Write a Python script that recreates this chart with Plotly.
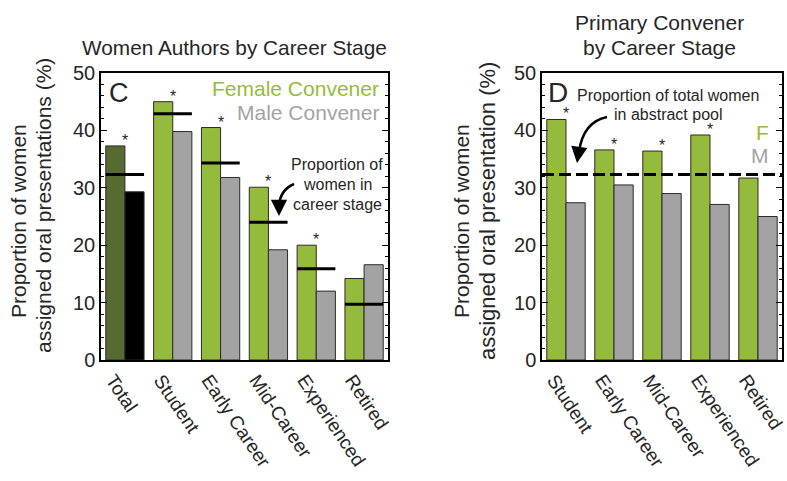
import plotly.graph_objects as go

# ---- data -------------------------------------------------------------
stages_c = ["Total", "Student", "Early Career", "Mid-Career", "Experienced", "Retired"]
female_conv_c = [37.3, 45.0, 40.5, 30.1, 20.0, 14.2]
male_conv_c = [29.3, 39.8, 31.8, 19.2, 12.0, 16.6]
stage_share_c = [32.3, 42.9, 34.3, 24.0, 15.9, 9.7]
signif_c = [True, True, True, True, True, False]

stages_d = ["Student", "Early Career", "Mid-Career", "Experienced", "Retired"]
female_conv_d = [41.9, 36.6, 36.4, 39.2, 31.7]
male_conv_d = [27.4, 30.5, 29.0, 27.1, 25.0]
abstract_pool_share = 32.3
signif_d = [True, True, True, True, False]

y_ticks = [0, 10, 20, 30, 40, 50]

# ---- style ------------------------------------------------------------
W, H = 787, 481
FONT = "Liberation Sans, Arial, Helvetica, sans-serif"
TXT = "#262626"
GREEN = "#95bb3c"
DARK_GREEN = "#566b31"
GREY = "#a3a3a3"
BLACK = "#000000"
EDGE = "#2b2b2b"


def px_x(p):
    return p / W


def px_y(p):
    return 1 - p / H


fig = go.Figure()

# ---- panel C ----------------------------------------------------------
xc = list(range(len(stages_c)))
fig.add_trace(go.Bar(
    x=xc, y=female_conv_c, xaxis="x", yaxis="y",
    marker=dict(color=[DARK_GREEN] + [GREEN] * (len(xc) - 1),
                line=dict(color=EDGE, width=1)),
    showlegend=False, hoverinfo="y"))
fig.add_trace(go.Bar(
    x=xc, y=male_conv_c, xaxis="x", yaxis="y",
    marker=dict(color=[BLACK] + [GREY] * (len(xc) - 1),
                line=dict(color=EDGE, width=1)),
    showlegend=False, hoverinfo="y"))

# proportion of women in each career stage: a bar across each group
lx, ly = [], []
for i, v in zip(xc, stage_share_c):
    lx += [i - 0.4, i + 0.4, None]
    ly += [v, v, None]
fig.add_trace(go.Scatter(
    x=lx, y=ly, mode="lines", xaxis="x", yaxis="y",
    line=dict(color=BLACK, width=3), showlegend=False, hoverinfo="skip"))

# ---- panel D ----------------------------------------------------------
xd = list(range(len(stages_d)))
fig.add_trace(go.Bar(
    x=xd, y=female_conv_d, xaxis="x2", yaxis="y2",
    marker=dict(color=GREEN, line=dict(color=EDGE, width=1)),
    showlegend=False, hoverinfo="y"))
fig.add_trace(go.Bar(
    x=xd, y=male_conv_d, xaxis="x2", yaxis="y2",
    marker=dict(color=GREY, line=dict(color=EDGE, width=1)),
    showlegend=False, hoverinfo="y"))

fig.add_shape(type="line", xref="x2 domain", yref="y2",
              x0=0, x1=1, y0=abstract_pool_share, y1=abstract_pool_share,
              line=dict(color=BLACK, width=3, dash="12px,5px"))

# ---- axes -------------------------------------------------------------
yax = dict(
    range=[0, 50], tickvals=y_ticks, ticks="inside", ticklen=6, tickwidth=1,
    tickcolor=BLACK, minor=dict(dtick=2, ticks="inside", ticklen=3, tickcolor=BLACK),
    showline=True, linecolor=BLACK, linewidth=1.5, mirror="allticks",
    showgrid=False, zeroline=False, automargin=False,
    tickfont=dict(family=FONT, size=20, color=TXT),
    domain=[px_y(360), px_y(73)],
)
xax = dict(
    showline=True, linecolor=BLACK, linewidth=1.5, mirror=True,
    showgrid=False, zeroline=False, ticks="", automargin=False,
    tickangle=56, ticklabelshift=-12,
    tickfont=dict(family=FONT, size=19, color=TXT),
)

fig.update_layout(
    width=W, height=H,
    margin=dict(l=0, r=0, t=0, b=0),
    paper_bgcolor="white", plot_bgcolor="white",
    barmode="group", bargap=0.2, bargroupgap=0,
    font=dict(family=FONT, color=TXT),
    xaxis=dict(xax, range=[-0.5, len(xc) - 0.5], tickvals=xc, ticktext=stages_c,
               domain=[px_x(101), px_x(388)], anchor="y"),
    yaxis=dict(yax, anchor="x"),
    xaxis2=dict(xax, range=[-0.5, len(xd) - 0.5], tickvals=xd, ticktext=stages_d,
                domain=[px_x(542), px_x(782)], anchor="y2"),
    yaxis2=dict(yax, anchor="x2"),
)

# ---- text -------------------------------------------------------------
ann = []


def text(x, y, s, size, color=TXT, xanchor="center", yanchor="middle", **kw):
    ann.append(dict(x=px_x(x), y=px_y(y), xref="paper", yref="paper", text=s,
                    showarrow=False, xanchor=xanchor, yanchor=yanchor,
                    font=dict(family=FONT, size=size, color=color), **kw))


text(235, 47, "Women Authors by Career Stage", 20.8)
text(659, 22, "Primary Convener", 21)
text(659, 47, "by Career Stage", 21)

# y-axis titles, one annotation per line
text(19, 221, "Proportion of women", 21, textangle=-90)
text(43, 206, "assigned oral presentations (%)", 21, textangle=-90)
text(462, 221, "Proportion of women", 21, textangle=-90)
text(487, 211, "assigned oral presentation (%)", 22, textangle=-90)

text(119, 93, "C", 27)
text(558, 93, "D", 28)
text(381, 88, "Female Convener", 21, color=GREEN, xanchor="right")
text(381, 113, "Male Convener", 21, color=GREY, xanchor="right")
text(771, 132, "F", 21, color=GREEN, xanchor="right")
text(771, 155, "M", 21, color=GREY, xanchor="right")

text(337, 164, "Proportion of", 16)
text(337, 184, "women in", 16)
text(337, 204, "career stage", 16)
text(668, 95, "Proportion of total women", 16)
text(668, 114, "in abstract pool", 16)

# significance stars sit over the right edge of the female-convener bar
for i, (v, s) in enumerate(zip(female_conv_c, signif_c)):
    if s:
        ann.append(dict(x=i, y=v, xref="x", yref="y", text="*", showarrow=False,
                        yanchor="bottom", yshift=-5,
                        font=dict(family=FONT, size=16, color=TXT)))
for i, (v, s) in enumerate(zip(female_conv_d, signif_d)):
    if s:
        ann.append(dict(x=i, y=v, xref="x2", yref="y2", text="*", showarrow=False,
                        yanchor="bottom", yshift=-5,
                        font=dict(family=FONT, size=16, color=TXT)))

# curved pointer arrows: a bezier body plus an arrowhead annotation
fig.add_shape(type="path", xref="paper", yref="paper",
              path=f"M {px_x(294)} {px_y(184)} Q {px_x(280)} {px_y(190)} {px_x(279)} {px_y(206)}",
              line=dict(color=BLACK, width=2.5))
ann.append(dict(x=px_x(279), y=px_y(216), xref="paper", yref="paper", ax=0, ay=-12,
                showarrow=True, arrowhead=2, arrowsize=1.3, arrowwidth=2.5,
                arrowcolor=BLACK, text=""))
fig.add_shape(type="path", xref="paper", yref="paper",
              path=f"M {px_x(607)} {px_y(117)} Q {px_x(583)} {px_y(122)} {px_x(579)} {px_y(152)}",
              line=dict(color=BLACK, width=2.5))
ann.append(dict(x=px_x(577), y=px_y(163), xref="paper", yref="paper", ax=2, ay=-14,
                showarrow=True, arrowhead=2, arrowsize=1.3, arrowwidth=2.5,
                arrowcolor=BLACK, text=""))

fig.update_layout(annotations=ann)
fig.write_html("out.html")
